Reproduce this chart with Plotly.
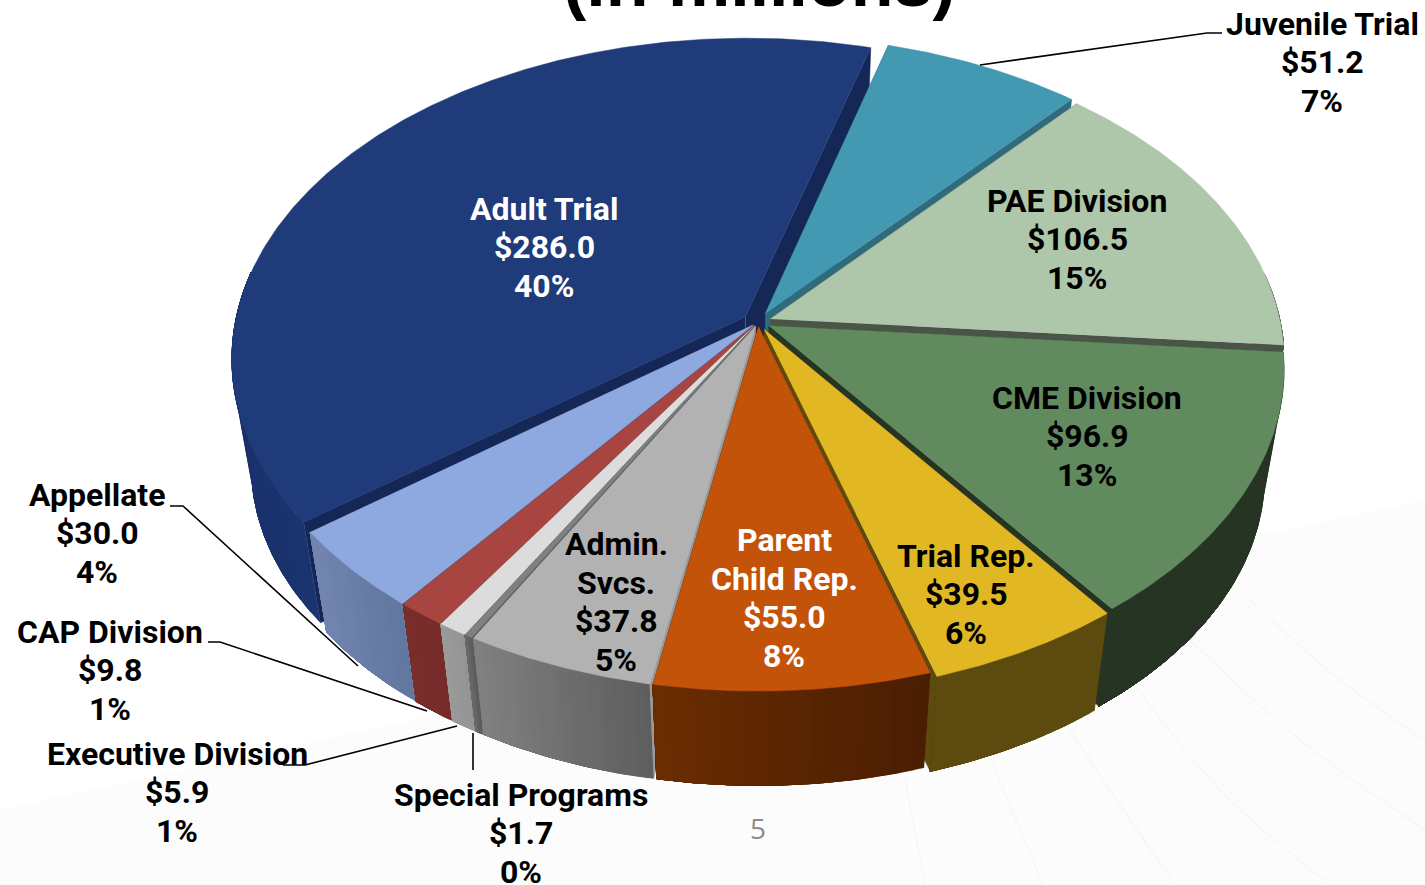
import numpy as np
import plotly.graph_objects as go

# ---- data (clockwise, starting at Juvenile Trial) ----
names = ["Juvenile Trial", "PAE Division", "CME Division", "Trial Rep.", "Parent<br>Child Rep.",
         "Admin.<br>Svcs.", "Special Programs", "Executive Division", "CAP Division", "Appellate", "Adult Trial"]
values = [51.2, 106.5, 96.9, 39.5, 55.0, 37.8, 1.7, 5.9, 9.8, 30.0, 286.0]
percents = ["7%", "15%", "13%", "6%", "8%", "5%", "0%", "1%", "1%", "4%", "40%"]

# ---- styling ----
top_colors = ["#4399B2", "#AEC6A9", "#618B5E", "#E1B723", "#C4530A", "#B2B2B2",
              "#808080", "#DCDCDC", "#A94541", "#8DA9DF", "#1F3B7A"]
radial_colors = ["#2F6B7D", "#4A5548", "#263523", "#5C4A0E", "#5A2604", "#9A9A9A",
                 "#5E5E5E", "#9A9A9A", "#7A2E2C", "#6C82B0", "#142757"]
wall_a = ["#2F6B7D", "#4A5548", "#263523", "#5C4A0E", "#4A1E02", "#5E5E5E",
          "#5A5A5A", "#949494", "#762C2A", "#60779F", "#1A3470"]
wall_b = ["#2F6B7D", "#4A5548", "#263523", "#5C4A0E", "#6A2C02", "#808080",
          "#6A6A6A", "#9A9A9A", "#7A2E2C", "#7285B0", "#1A2F66"]
explode = [0.03, 0.026, 0.024, 0.026, 0.014, 0.014, 0.014, 0.014, 0.014, 0.014, 0.03]
draw_order = [10, 0, 1, 2, 3, 9, 8, 7, 6, 5, 4]
text_colors = ["black", "black", "black", "black", "white", "black",
               "black", "black", "black", "black", "white"]
label_xy = [(1322, 62), (1077, 239), (1087, 436), (966, 594), (784, 598), (616, 602),
            (521, 833), (177, 792), (110, 670), (97, 533), (544, 247)]
leaders = [[(980, 65), (1207, 33), (1222, 33)],
           [(170, 506), (183, 506), (358, 666)],
           [(208, 642), (220, 642), (427, 711)],
           [(283, 765), (305, 765), (457, 726)],
           [(473, 733), (473, 770)]]
bg_lines = [[(905, 780), (925, 885)], [(990, 757), (1043, 885)], [(1067, 725), (1110, 790), (1175, 885)],
            [(1135, 685), (1220, 790), (1330, 885)], [(1190, 640), (1300, 740), (1425, 830)],
            [(1250, 600), (1340, 680), (1425, 740)]]

# projection of the pie
CX, CY = 758, 322
R, S, K = 510, 316, 0.13
DEPTH, SHRINK = 108, 0.963
START = 15.9
NSEG = 20
LINE_GAP = 38.5


def project(px, py, bottom=False):
    w = 1 + K * py
    sc = SHRINK if bottom else 1.0
    return CX + sc * R * px / w, CY - sc * S * py / w + (DEPTH if bottom else 0)


def mix(c1, c2, t):
    a = [int(c1[i:i + 2], 16) for i in (1, 3, 5)]
    b = [int(c2[i:i + 2], 16) for i in (1, 3, 5)]
    return "rgb(%d,%d,%d)" % tuple(round(p + (q - p) * t) for p, q in zip(a, b))


fig = go.Figure()


def poly(xs, ys, color):
    fig.add_trace(go.Scatter(x=list(xs), y=list(ys), mode="lines", fill="toself", fillcolor=color,
                             line=dict(color=color, width=0.5), hoverinfo="skip", showlegend=False))


def line(pts, color, width, smooth=False):
    fig.add_trace(go.Scatter(x=[p[0] for p in pts], y=[p[1] for p in pts], mode="lines",
                             line=dict(color=color, width=width, shape="spline" if smooth else "linear"),
                             hoverinfo="skip", showlegend=False))


# faint backdrop
poly([0, 1425, 1425, 0], [810, 500, 885, 885], "#FCFCFC")
for pts in bg_lines:
    line(pts, "#F5F5F5", 1.2, smooth=True)

# slices
total = sum(values)
spans = [v / total * 360 for v in values]
starts = START + np.concatenate([[0], np.cumsum(spans)[:-1]])

for i in draw_order:
    a0, a1 = np.radians(starts[i]), np.radians(starts[i] + spans[i])
    mid = (a0 + a1) / 2
    ox, oy = explode[i] * np.sin(mid), explode[i] * np.cos(mid)
    ang = np.linspace(a0, a1, max(24, int(spans[i] * 2)))
    rx, ry = ox + np.sin(ang), oy + np.cos(ang)
    tx, ty = project(rx, ry)
    bx, by = project(rx, ry, True)
    ax_t, ay_t = project(ox, oy)
    ax_b, ay_b = project(ox, oy, True)
    # radial walls
    poly([ax_t, tx[0], bx[0], ax_b], [ay_t, ty[0], by[0], ay_b], radial_colors[i])
    poly([ax_t, tx[-1], bx[-1], ax_b], [ay_t, ty[-1], by[-1], ay_b], radial_colors[i])
    # outer wall (front-facing part only); each band runs on to the end so no seams show
    front = np.where(np.cos(ang) < 0.15)[0]
    if len(front) >= 2:
        idx = np.linspace(front[0], front[-1], NSEG + 1).astype(int)
        end = front[-1] + 1
        for j in range(NSEG):
            p = idx[j]
            if end - p >= 2:
                poly(np.r_[tx[p:end], bx[p:end][::-1]], np.r_[ty[p:end], by[p:end][::-1]],
                     mix(wall_a[i], wall_b[i], j / (NSEG - 1)))
    # top
    poly(np.r_[ax_t, tx], np.r_[ay_t, ty], top_colors[i])

# leader lines
for pts in leaders:
    line(pts, "black", 1.6)

# data labels, one annotation per text line
annotations = []
for i, (x, y) in enumerate(label_xy):
    rows = names[i].split("<br>") + [f"${values[i]:.1f}", percents[i]]
    for j, row in enumerate(rows):
        annotations.append(dict(x=x, y=y + (j - (len(rows) - 1) / 2) * LINE_GAP, xref="x", yref="y",
                                showarrow=False, text=f"<b>{row}</b>",
                                font=dict(family="Roboto", size=32, color=text_colors[i])))
annotations.append(dict(x=758, y=828, xref="x", yref="y", showarrow=False, text="5",
                        font=dict(family="Open Sans", size=28, color="#8C8C8C")))
annotations.append(dict(x=759, y=0, xref="x", yref="y", yshift=18, showarrow=False, text="<b>(in millions)</b>",
                        font=dict(family="Liberation Sans", size=70, color="black")))

fig.update_layout(width=1425, height=885, margin=dict(l=0, r=0, t=0, b=0), paper_bgcolor="white",
                  plot_bgcolor="white", showlegend=False, annotations=annotations,
                  xaxis=dict(range=[0, 1425], visible=False, fixedrange=True),
                  yaxis=dict(range=[885, 0], visible=False, fixedrange=True))
fig.write_html("out.html", config=dict(displayModeBar=False),
               post_script="document.body.style.margin='0';document.body.style.overflow='hidden';")
